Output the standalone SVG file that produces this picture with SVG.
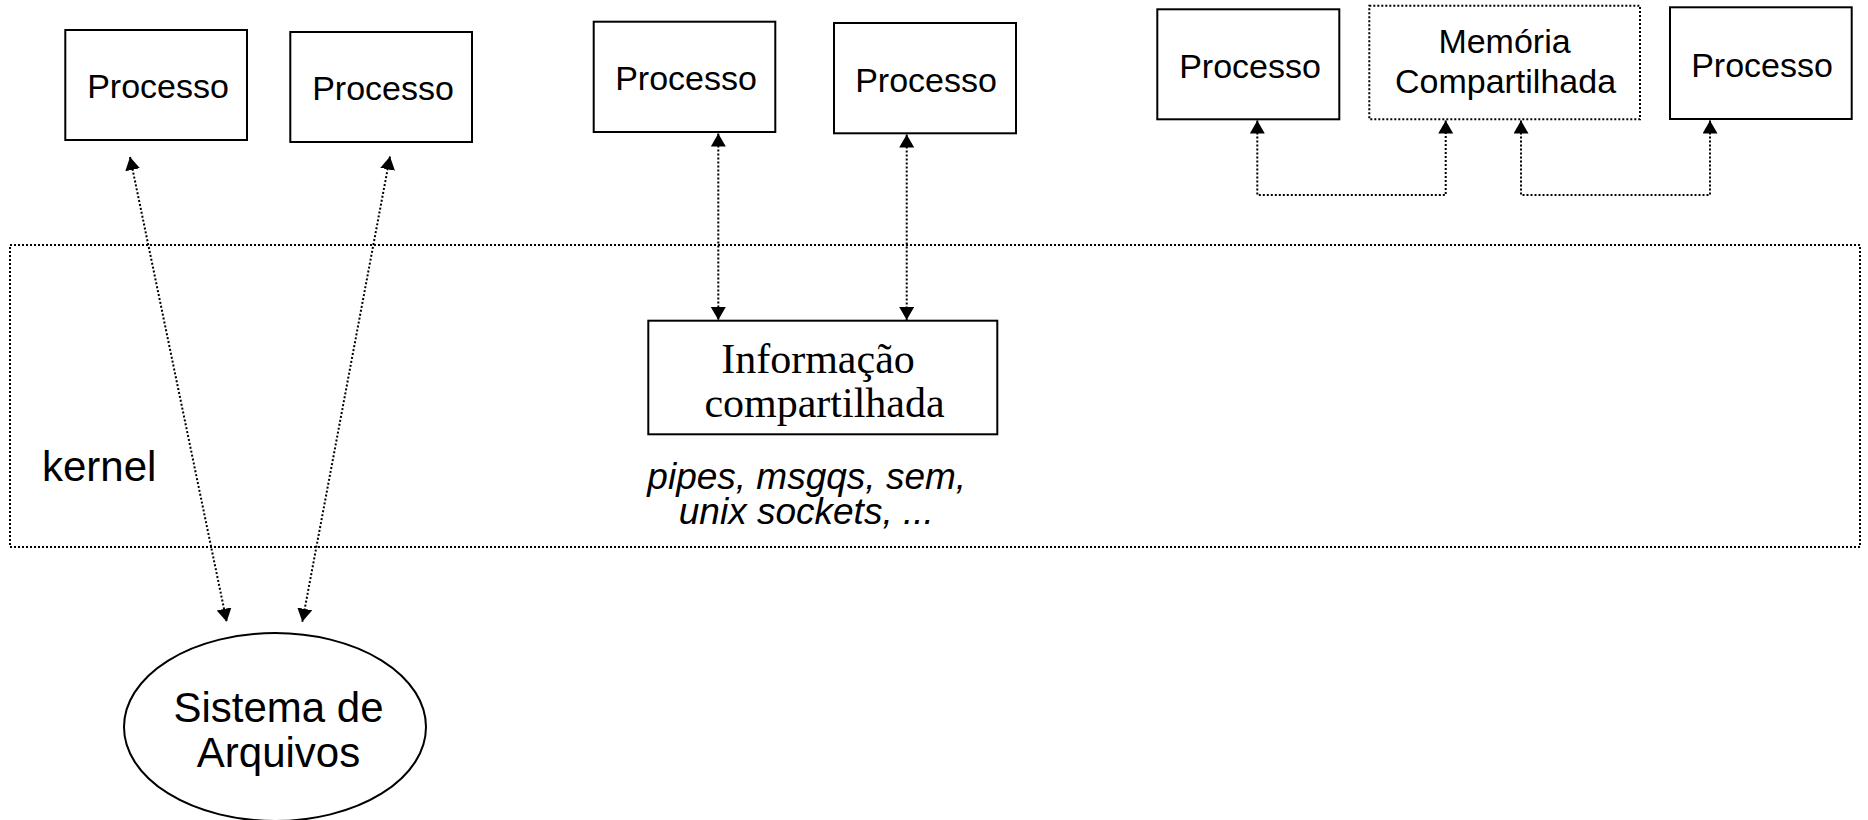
<svg xmlns="http://www.w3.org/2000/svg" width="1868" height="820" viewBox="0 0 1868 820">
  <style>
    .box { fill: #ffffff; stroke: #000000; stroke-width: 2; }
    .dotbox { fill: none; stroke: #000000; stroke-width: 2; stroke-dasharray: 2 2; }
    .link { fill: none; stroke: #000000; stroke-width: 2; stroke-dasharray: 2 2; marker-start: url(#head); marker-end: url(#head); }
    .sans { font-family: "Liberation Sans", Arial, sans-serif; fill: #000000; }
    .serif { font-family: "Liberation Serif", "Times New Roman", serif; fill: #000000; }
    .lbl { font-size: 34px; text-anchor: middle; }
    .big { font-size: 42px; }
    .mid { text-anchor: middle; }
    .note { font-size: 37px; font-style: italic; text-anchor: middle; }
  </style>
  <defs>
    <marker id="head" markerUnits="userSpaceOnUse" markerWidth="14" markerHeight="16" refX="13" refY="7.5" orient="auto-start-reverse" viewBox="0 0 14 16">
      <path d="M0,0 L13,7.5 L0,15 z" fill="#000000"/>
    </marker>
  </defs>

  <rect width="1868" height="820" fill="#ffffff"/>

  <!-- kernel area -->
  <g id="kernel">
    <rect class="dotbox" x="10" y="245" width="1850" height="302"/>
    <text class="sans big" x="42" y="481">kernel</text>
  </g>

  <!-- connectors -->
  <g id="connectors">
    <line class="link" x1="130" y1="157" x2="226.7" y2="621.7"/>
    <line class="link" x1="390" y1="156.5" x2="302.3" y2="621.7"/>
    <line class="link" x1="718.3" y1="133.5" x2="718.3" y2="320"/>
    <line class="link" x1="906.7" y1="134.5" x2="906.7" y2="320"/>
    <path class="link" d="M1257.3,120.5 V195 H1445.7 V120.5"/>
    <path class="link" d="M1521,120.5 V195 H1710 V120.5"/>
  </g>

  <!-- file-system processes -->
  <g id="proc-fs-1">
    <rect class="box" x="65.3" y="30" width="181.7" height="110"/>
    <text class="sans lbl" x="158" y="98">Processo</text>
  </g>
  <g id="proc-fs-2">
    <rect class="box" x="290.3" y="32" width="181.7" height="110"/>
    <text class="sans lbl" x="383" y="100">Processo</text>
  </g>

  <!-- kernel IPC processes -->
  <g id="proc-ipc-1">
    <rect class="box" x="593.7" y="21.7" width="181.6" height="110.3"/>
    <text class="sans lbl" x="686" y="90">Processo</text>
  </g>
  <g id="proc-ipc-2">
    <rect class="box" x="834" y="23" width="182" height="110.3"/>
    <text class="sans lbl" x="926" y="91.7">Processo</text>
  </g>

  <!-- shared-memory processes -->
  <g id="proc-shm-1">
    <rect class="box" x="1157.3" y="9.3" width="182" height="110"/>
    <text class="sans lbl" x="1250" y="78.3">Processo</text>
  </g>
  <g id="shared-memory">
    <rect class="dotbox" x="1369.3" y="5.7" width="270.7" height="113.6"/>
    <text class="sans lbl" x="1504.5" y="53.3">Memória</text>
    <text class="sans lbl" x="1505.5" y="93.3">Compartilhada</text>
  </g>
  <g id="proc-shm-2">
    <rect class="box" x="1670" y="7.3" width="181.7" height="111.7"/>
    <text class="sans lbl" x="1762" y="76.7">Processo</text>
  </g>

  <!-- kernel shared information -->
  <g id="shared-info">
    <rect class="box" x="648.3" y="320.7" width="349" height="113.6"/>
    <text class="serif big mid" x="818" y="373.3">Informação</text>
    <text class="serif big mid" x="824.5" y="417.3">compartilhada</text>
    <text class="sans note" x="806.7" y="489">pipes, msgqs, sem,</text>
    <text class="sans note" x="806.3" y="524">unix sockets, ...</text>
  </g>

  <!-- file system -->
  <g id="file-system">
    <ellipse class="box" cx="275" cy="727" rx="151" ry="94"/>
    <text class="sans big mid" x="278.5" y="721.7">Sistema de</text>
    <text class="sans big mid" x="278.5" y="766.7">Arquivos</text>
  </g>
</svg>
